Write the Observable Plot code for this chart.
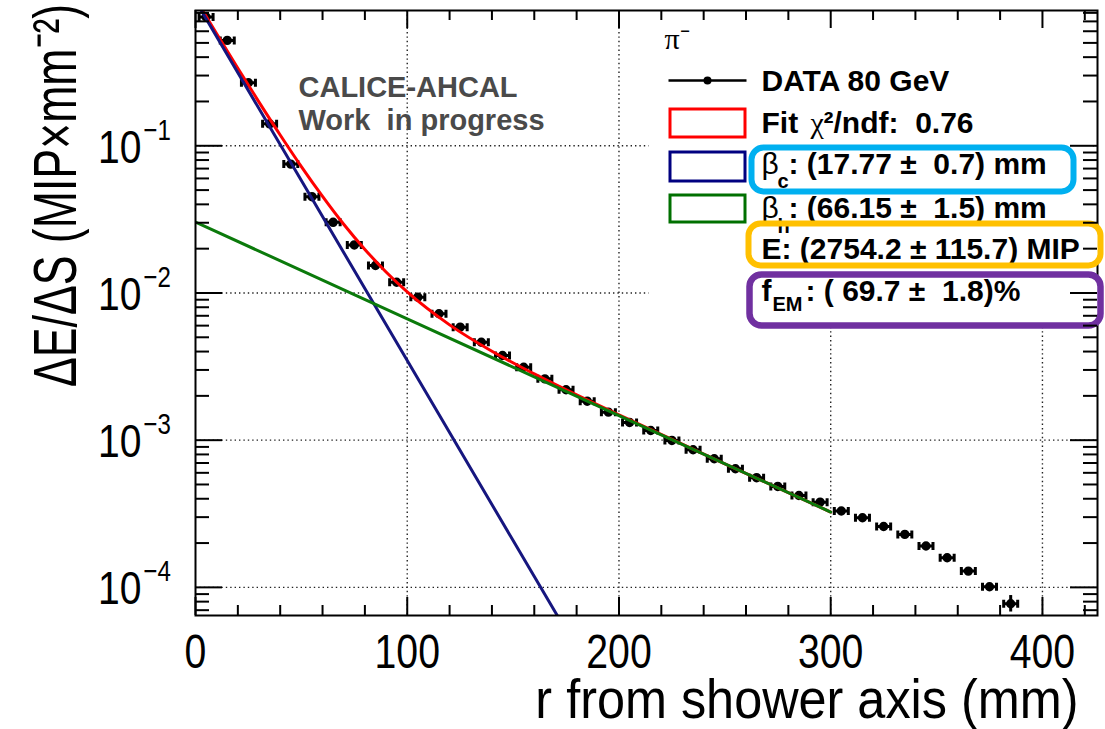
<!DOCTYPE html>
<html><head><meta charset="utf-8">
<script src="https://cdn.jsdelivr.net/npm/d3@7"></script>
<script src="https://cdn.jsdelivr.net/npm/@observablehq/plot@0.6"></script>
<style>html,body{margin:0;padding:0;background:#fff;} #chart svg{display:block}</style>
</head><body><div id="chart"></div>
<script>
// ---- data ----
const radius = [5,15,25,35,45,55,65,75,85,95,105,115,125,135,145,155,165,175,185,195,205,215,225,235,245,255,265,275,285,295,305,315,325,335,345,355,365,375,385];
const density = [0.75,0.52,0.268,0.141,0.0751,0.0451,0.0302,0.0212,0.01536,0.01183,0.00937,0.00723,0.00586,0.00463,0.00376,0.00313,0.00261,0.00220,0.00184,0.00155,0.00132,0.001164,0.000996,0.000861,0.000748,0.000640,0.000556,0.000485,0.000421,0.000379,0.000330,0.000297,0.000259,0.000229,0.000191,0.000159,0.000129,0.000101,0.0000774];
const lastErrR = [385];
const lastErrLo = [0.000068];
const lastErrHi = [0.000088];

const fitR = [0,10,20,30,40,50,60,70,80,90,100,120,140,160,180,200,250,300];
const fitTotal = [0.997,0.577,0.336,0.198,0.1184,0.0722,0.0453,0.0293,0.01977,0.01388,0.01016,0.00607,0.00402,0.00282,0.00203,0.001487,0.000691,0.000325];
const coreR = [0,50,100,150,175];
const coreVal = [0.967,0.058,0.00348,0.000208,0.000051];
const haloR = [0,100,200,300];
const haloVal = [0.0303,0.00668,0.00147,0.000325];

const xMajorTicks = [0,100,200,300,400];
const xTickLabels = ["0","100","200","300","400"];
const xMinorTicks = [20,40,60,80,120,140,160,180,220,240,260,280,320,340,360,380,420];
const yMajorTicks = [1e-1,1e-2,1e-3,1e-4];
const yTickBase = ["10","10","10","10"];
const yTickExponents = ["\u22121","\u22122","\u22123","\u22124"];
const gridX = [100,200,300,400];

// ---- layout ----
const W = 1105, H = 729, ML = 195, MR = 8, MT = 10, MB = 114;
const PW = W - ML - MR, PH = H - MT - MB;
const yDomain = [6.44e-5, 0.83];
const yMinorTicks = [];
for (let e = -5; e <= -1; e++) for (let m = 2; m <= 9; m++) {
  const v = m * Math.pow(10, e);
  if (v > yDomain[0] && v < yDomain[1]) yMinorTicks.push(v);
}

const points = radius.map((r, i) => ({r, v: density[i]}));
const lastErr = lastErrR.map((r, i) => ({r, lo: lastErrLo[i], hi: lastErrHi[i]}));
const fitData = fitR.map((r, i) => ({r, v: fitTotal[i]}));
const coreData = coreR.map((r, i) => ({r, v: coreVal[i]}));
const haloData = haloR.map((r, i) => ({r, v: haloVal[i]}));
const yTicks = yMajorTicks.map((v, i) => ({v, base: yTickBase[i], exp: yTickExponents[i]}));
const xTicks = xMajorTicks.map((v, i) => ({v, label: xTickLabels[i]}));

// data marker: horizontal error bar with caps and a dot
const hBar = {
  draw(ctx) {
    const w = 7, h = 4, r = 3.2;
    ctx.moveTo(-w, 0); ctx.lineTo(w, 0);
    ctx.moveTo(-w, -h); ctx.lineTo(-w, h);
    ctx.moveTo(w, -h); ctx.lineTo(w, h);
    ctx.moveTo(r, 0); ctx.arc(0, 0, r, 0, 2 * Math.PI);
  }
};

const FS = "Liberation Sans, Arial, Helvetica, sans-serif";
const legendTxt = (text, dx, dy, extra = {}) =>
  Plot.text([text], {text: d => d, frameAnchor: "top-left", dx, dy, textAnchor: "start", lineAnchor: "bottom",
    fontSize: 30, fontWeight: "bold", fill: "black", fontFamily: FS, ...extra});
const box = (color, sw, l, r, t, b, fill) =>
  Plot.frame({stroke: fill ? "none" : color, fill: fill ? "white" : "none", strokeWidth: sw, rx: 12, ry: 12,
    insetLeft: l - ML, insetRight: (W - MR) - r, insetTop: t - MT, insetBottom: (H - MB) - b});
const boxes = [
  ["#00b0f0", 6, 751, 1073, 147, 191],
  ["#ffc000", 6, 748, 1100, 223, 265],
  ["#7030a0", 6.5, 749, 1100, 274, 325]
];
const tag = (name) => () => name;

const plot = Plot.plot({
  width: W, height: H,
  marginLeft: ML, marginRight: MR, marginTop: MT, marginBottom: MB,
  style: {fontFamily: FS, background: "white"},
  x: {domain: [0, 426], axis: null},
  y: {type: "log", domain: yDomain, axis: null},
  marks: [
    // grid
    Plot.ruleX(gridX, {x: d => d, stroke: "#222", strokeWidth: 1.4, strokeDasharray: "1.4,3"}),
    Plot.ruleY(yMajorTicks, {y: d => d, stroke: "#222", strokeWidth: 1.4, strokeDasharray: "1.4,3"}),
    // legend background
    Plot.frame({fill: "white", stroke: "none", insetLeft: 453, insetRight: 5, insetTop: 3, insetBottom: 303}),
    // data
    Plot.ruleX(lastErr, {x: "r", y1: "lo", y2: "hi", stroke: "black", strokeWidth: 3}),
    Plot.dot(points, {x: "r", y: "v", symbol: hBar, fill: "black", stroke: "black", strokeWidth: 3}),
    // fit curves
    Plot.line(fitData, {x: "r", y: "v", stroke: "#ff0000", strokeWidth: 3, curve: "monotone-x", clip: true}),
    Plot.line(coreData, {x: "r", y: "v", stroke: "#16167f", strokeWidth: 3, clip: true}),
    Plot.line(haloData, {x: "r", y: "v", stroke: "#0b7a0b", strokeWidth: 3, clip: true}),
    // frame
    Plot.frame({stroke: "black", strokeWidth: 2}),
    // watermark text
    Plot.text(["CALICE-AHCAL"], {text: d => d, frameAnchor: "top-left", dx: 103, dy: 86, textAnchor: "start", lineAnchor: "bottom", fontSize: 29, fontWeight: "bold", fill: "#4a4a4a"}),
    Plot.text(["Work\u00a0 in progress"], {text: d => d, frameAnchor: "top-left", dx: 103, dy: 119, textAnchor: "start", lineAnchor: "bottom", fontSize: 29, fontWeight: "bold", fill: "#4a4a4a"}),
    // legend swatches
    Plot.frame({fill: "black", stroke: "none", insetLeft: 473, insetRight: 351, insetTop: 68.75, insetBottom: 533.75}),
    Plot.dot([0], {frameAnchor: "top-left", dx: 512, dy: 70, r: 4, fill: "black"}),
    Plot.frame({stroke: "#ff0000", strokeWidth: 3, insetLeft: 474.5, insetRight: 352.5, insetTop: 98.5, insetBottom: 478.5}),
    Plot.frame({stroke: "#000080", strokeWidth: 3, insetLeft: 474.5, insetRight: 352.5, insetTop: 141.5, insetBottom: 434.5}),
    Plot.frame({stroke: "#007000", strokeWidth: 3, insetLeft: 474.5, insetRight: 352.5, insetTop: 184.5, insetBottom: 393.5}),
    Plot.text(["\u03c0\u207b"], {text: d => d, frameAnchor: "top-left", dx: 469, dy: 38, textAnchor: "start", lineAnchor: "bottom", fontSize: 30, fontFamily: "Liberation Serif, serif", fill: "black"}),
    // annotation box fills
    ...boxes.map(b => box(...b, true)),
    // legend text
    legendTxt("DATA 80 GeV", 566, 80),
    legendTxt("Fit", 566, 122),
    legendTxt("\u03c7", 615, 122, {fontWeight: "normal", fontFamily: "Liberation Serif, serif"}),
    legendTxt("\u00b2/ndf:\u00a0 0.76", 628, 122),
    legendTxt("\u03b2", 566, 163, {fontWeight: "normal"}),
    legendTxt("c", 582, 177, {fontSize: 20}),
    legendTxt(": (17.77 \u00b1\u00a0 0.7) mm", 593, 163),
    legendTxt("\u03b2", 566, 207, {fontWeight: "normal"}),
    legendTxt("h", 582, 222, {fontSize: 20}),
    legendTxt(": (66.15 \u00b1\u00a0 1.5) mm", 593, 207),
    legendTxt("E: (2754.2 \u00b1 115.7) MIP", 566, 248),
    legendTxt("f", 566, 290),
    legendTxt("EM", 577, 300, {fontSize: 20}),
    legendTxt(": ( 69.7 \u00b1\u00a0 1.8)%", 610, 290),
    // annotation box strokes
    ...boxes.map(b => box(...b, false)),
    // ticks (inside, all four sides)
    Plot.tickX(xMajorTicks, {x: d => d, insetTop: PH - 18, stroke: "black", strokeWidth: 2}),
    Plot.tickX(xMajorTicks, {x: d => d, insetBottom: PH - 18, stroke: "black", strokeWidth: 2}),
    Plot.tickX(xMinorTicks, {x: d => d, insetTop: PH - 10, stroke: "black", strokeWidth: 2}),
    Plot.tickX(xMinorTicks, {x: d => d, insetBottom: PH - 10, stroke: "black", strokeWidth: 2}),
    Plot.tickY(yMajorTicks, {y: d => d, insetRight: PW - 27, stroke: "black", strokeWidth: 2}),
    Plot.tickY(yMajorTicks, {y: d => d, insetLeft: PW - 27, stroke: "black", strokeWidth: 2}),
    Plot.tickY(yMinorTicks, {y: d => d, insetRight: PW - 14, stroke: "black", strokeWidth: 2}),
    Plot.tickY(yMinorTicks, {y: d => d, insetLeft: PW - 14, stroke: "black", strokeWidth: 2}),
    // tick labels
    Plot.text(xTicks, {x: "v", text: "label", frameAnchor: "bottom", dy: 52, textAnchor: "middle", lineAnchor: "bottom", fontSize: 49, fill: "black", ariaLabel: tag("xlab")}),
    Plot.text(yTicks, {y: "v", text: "base", frameAnchor: "left", dx: -54, dy: 17, textAnchor: "end", lineAnchor: "bottom", fontSize: 47, fill: "black", ariaLabel: tag("ylab")}),
    Plot.text(yTicks, {y: "v", text: "exp", frameAnchor: "left", dx: -52, dy: -6, textAnchor: "start", lineAnchor: "bottom", fontSize: 29, fill: "black", ariaLabel: tag("ylab")}),
    // axis titles
    Plot.text(["r from shower axis (mm)"], {text: d => d, frameAnchor: "bottom-right", dx: -19, dy: 102, textAnchor: "end", lineAnchor: "bottom", fontSize: 56, fill: "black", ariaLabel: tag("xtitle")}),
    Plot.text(["\u0394E/\u0394S (MIP\u00d7mm\u207b\u00b2)"], {text: d => d, frameAnchor: "top-left", dx: -120, dy: 185, rotate: -90, textAnchor: "middle", lineAnchor: "bottom", fontSize: 62, fill: "black", ariaLabel: tag("ytitle")})
  ]
});

// condensed axis lettering (narrow Helvetica look)
const squeeze = (label, s) => plot.querySelectorAll(`text[aria-label="${label}"]`).forEach(t => {
  t.setAttribute("transform", (t.getAttribute("transform") || "") + ` scale(${s},1)`);
});
squeeze("xlab", 0.8);
squeeze("ylab", 0.83);
squeeze("xtitle", 0.9);
squeeze("ytitle", 0.72);

document.getElementById("chart").appendChild(plot);
</script>
</body></html>
